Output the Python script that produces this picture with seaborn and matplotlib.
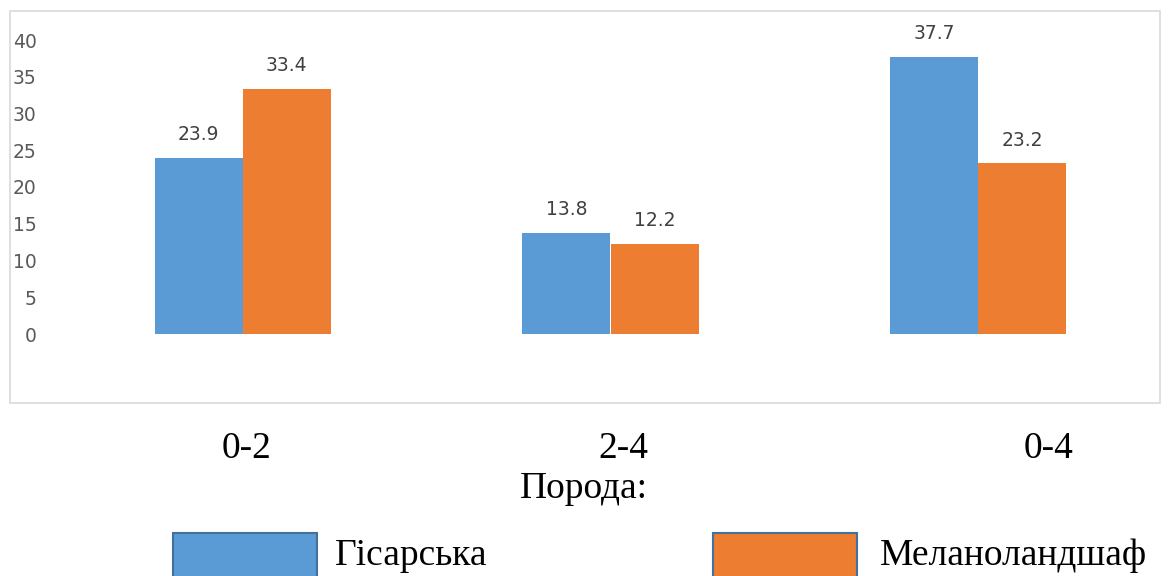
import matplotlib.pyplot as plt
import pandas as pd
import seaborn as sns
from matplotlib.patches import Rectangle

categories = ["0-2", "2-4", "0-4"]
gisarska = [23.9, 13.8, 37.7]
melanolandshaf = [33.4, 12.2, 23.2]
series_names = ["Гісарська", "Меланоландшаф"]
colors = ["#5b9bd5", "#ed7d31"]
yticks = [0, 5, 10, 15, 20, 25, 30, 35, 40]
xlabel = "Порода:"

W, H = 1168, 576


def fx(px):
    return px / W


def fy(py):
    return 1 - py / H


df = pd.DataFrame({
    "cat": categories * 2,
    "val": gisarska + melanolandshaf,
    "series": [series_names[0]] * 3 + [series_names[1]] * 3,
})

sns.set_theme(style="white")
plt.rcParams["font.family"] = ["DejaVu Sans"]

fig = plt.figure(figsize=(W / 100, H / 100), dpi=100)
ax = fig.add_axes([fx(59), fy(334), fx(1162) - fx(59), fy(40) - fy(334)])

sns.barplot(
    data=df, x="cat", y="val", hue="series", order=categories,
    hue_order=series_names, palette=colors, saturation=1,
    width=0.479, linewidth=0, legend=False, ax=ax,
)

for cont in ax.containers:
    ax.bar_label(cont, fmt="%.1f", padding=10, fontsize=13.5, color="#404040")

ax.set_xlim(-0.5, 2.5)
ax.set_ylim(0, 40)
ax.set_yticks(yticks)
ax.set_xticks([])
ax.set_xlabel("")
ax.set_ylabel("")
ax.tick_params(axis="y", length=0, pad=16, labelsize=13.5, labelcolor="#595959")
sns.despine(ax=ax, left=True, bottom=True)
ax.patch.set_alpha(0)

# chart frame
fig.patches.append(Rectangle((fx(10), fy(403)), fx(1160) - fx(10), fy(11) - fy(403),
                             transform=fig.transFigure, fill=False,
                             edgecolor="#d9d9d9", linewidth=1.2))

serif = ["Liberation Serif", "DejaVu Serif"]

# category labels below the frame
for cat, cx in zip(categories, [247, 623, 1049]):
    fig.text(fx(cx), fy(458), cat, ha="center", va="baseline",
             fontsize=27, family=serif, color="black")

fig.text(fx(584), fy(498), xlabel, ha="center", va="baseline",
         fontsize=27, family=serif, color="black")

# legend
for name, col, rx, tx in zip(series_names, colors, [173, 713], [335, 880]):
    fig.patches.append(Rectangle((fx(rx), fy(590)), fx(rx + 144) - fx(rx), fy(533) - fy(590),
                                 transform=fig.transFigure, facecolor=col,
                                 edgecolor="#41719c", linewidth=1.5))
    fig.text(fx(tx), fy(565), name, ha="left", va="baseline",
             fontsize=27, family=serif, color="black")

fig.savefig("out.png", dpi=100)
